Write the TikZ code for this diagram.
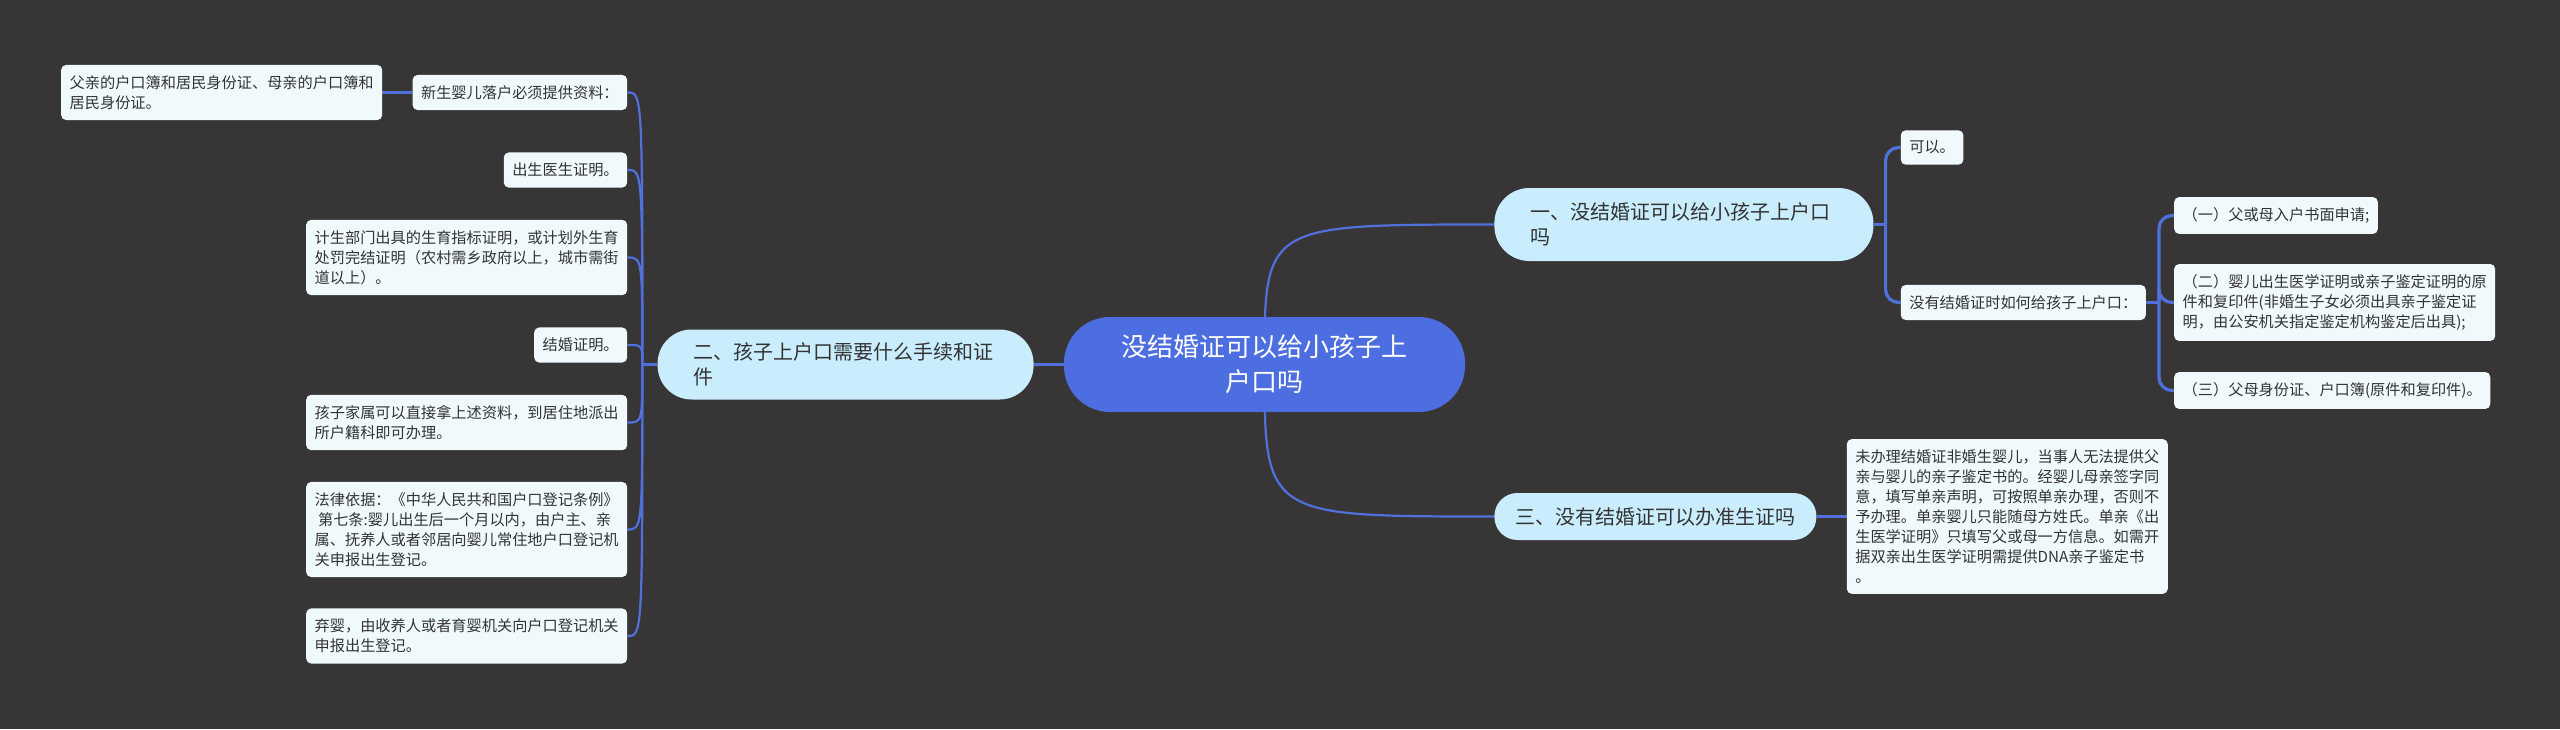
\documentclass[tikz,border=0pt]{standalone}
\usepackage{fontspec}
\setmainfont{Noto Sans CJK SC}
\usepackage{tikz}
\usetikzlibrary{positioning}
\definecolor{MapBg}{HTML}{373536}
\definecolor{RootBlue}{HTML}{4C6EE0}
\definecolor{TopicCyan}{HTML}{C9EDFD}
\definecolor{LeafWhite}{HTML}{F0FAFD}
\definecolor{LinkBlue}{HTML}{5070DC}
\definecolor{InkGray}{HTML}{333333}
\pgfdeclarelayer{bg}
\pgfdeclarelayer{edges}
\pgfsetlayers{bg,edges,main}

\begin{document}
\begin{tikzpicture}[
        root/.style={fill=RootBlue, text=white, font=\fontsize{26}{35}\selectfont, align=center, text width=287pt, inner xsep=57pt, inner ysep=17pt, minimum height=95pt, rounded corners=46pt},
        topic/.style={fill=TopicCyan, text=InkGray, font=\fontsize{20}{25}\selectfont, align=left, inner xsep=21pt, minimum height=47pt, rounded corners=23pt},
        leaf/.style={fill=LeafWhite, text=InkGray, font=\fontsize{15.2}{20}\selectfont, align=left, inner xsep=8.5pt, inner ysep=10.5pt, rounded corners=5pt},
        curvelink/.style={LinkBlue, line width=2.2pt},
        elbowlink/.style={LinkBlue, line width=3.2pt, rounded corners=13pt}]
        \useasboundingbox (-1264.5pt,-364.5pt) rectangle (1295.5pt,364.5pt);

        % Nodes
        \node[root] (root) at (0,0) {没结婚证可以给小孩子上\\户口吗};
        \node[topic, text width=307pt, inner xsep=36pt, minimum height=73pt, rounded corners=35pt, right=29pt of root, yshift=140pt] (c1) {一、没结婚证可以给小孩子上户口\\吗};
        \node[topic, text width=304pt, inner xsep=36pt, minimum height=70pt, rounded corners=34pt, left=30pt of root] (c2) {二、孩子上户口需要什么手续和证\\件};
        \node[topic, right=29pt of root, yshift=-152pt] (c3) {三、没有结婚证可以办准生证吗};

        \node[leaf, right=27pt of c1, yshift=77pt] (a1) {可以。};
        \node[leaf, right=27pt of c1, yshift=-78pt] (a2) {没有结婚证时如何给孩子上户口：};
        \node[leaf, right=28pt of a2, yshift=87pt] (b1) {（一）父或母入户书面申请;};
        \node[leaf, right=28pt of a2] (b2) {（二）婴儿出生医学证明或亲子鉴定证明的原\\件和复印件(非婚生子女必须出具亲子鉴定证\\明，由公安机关指定鉴定机构鉴定后出具);};
        \node[leaf, right=28pt of a2, yshift=-88pt] (b3) {（三）父母身份证、户口簿(原件和复印件)。};

        \node[leaf, right=30pt of c3] (d1) {未办理结婚证非婚生婴儿，当事人无法提供父\\亲与婴儿的亲子鉴定书的。经婴儿母亲签字同\\意，填写单亲声明，可按照单亲办理，否则不\\予办理。单亲婴儿只能随母方姓氏。单亲《出\\生医学证明》只填写父或母一方信息。如需开\\据双亲出生医学证明需提供DNA亲子鉴定书\\。};

        \node[leaf, left=30pt of c2, yshift=272pt] (e1) {新生婴儿落户必须提供资料：};
        \node[leaf, left=30pt of e1] (e0) {父亲的户口簿和居民身份证、母亲的户口簿和\\居民身份证。};
        \node[leaf, left=30pt of c2, yshift=194.5pt] (e2) {出生医生证明。};
        \node[leaf, left=30pt of c2, yshift=107pt] (e3) {计生部门出具的生育指标证明，或计划外生育\\处罚完结证明（农村需乡政府以上，城市需街\\道以上）。};
        \node[leaf, left=30pt of c2, yshift=19.5pt] (e4) {结婚证明。};
        \node[leaf, left=30pt of c2, yshift=-58pt] (e5) {孩子家属可以直接拿上述资料，到居住地派出\\所户籍科即可办理。};
        \node[leaf, left=30pt of c2, yshift=-165pt] (e6) {法律依据：《中华人民共和国户口登记条例》\\\ 第七条:婴儿出生后一个月以内，由户主、亲\\属、抚养人或者邻居向婴儿常住地户口登记机\\关申报出生登记。};
        \node[leaf, left=30pt of c2, yshift=-271.5pt] (e7) {弃婴，由收养人或者育婴机关向户口登记机关\\申报出生登记。};

        \coordinate[left=15pt of c2] (j2);
        \coordinate[right=12pt of c1] (j1);
        \coordinate[right=13pt of a2] (ja);

        % Connectors
        \begin{pgfonlayer}{edges}
            \draw[curvelink] (root.center) .. controls (root.center |- c1.west) .. (c1.west);
            \draw[curvelink] (root.center) .. controls (root.center |- c3.west) .. (c3.west);
            \draw[curvelink] (root.west) -- (c2.east);

            \draw[curvelink] (c2.west) -- (j2);
            \foreach \n in {e1,e2,e3,e4,e5,e6,e7}
                \draw[curvelink] (j2) .. controls (j2 |- \n.east) .. (\n.east);
            \draw[curvelink] (e1.west) -- (e0.east);

            \draw[elbowlink] (c1.east) -- (j1);
            \foreach \n in {a1,a2}
                \draw[elbowlink] (j1) |- (\n.west);
            \draw[elbowlink] (a2.east) -- (ja);
            \foreach \n in {b1,b2,b3}
                \draw[elbowlink] (ja) |- (\n.west);

            \draw[curvelink] (c3.east) -- (d1.west);
        \end{pgfonlayer}

        \begin{pgfonlayer}{bg}
            \fill[MapBg] (-1264.5pt,-364.5pt) rectangle (1295.5pt,364.5pt);
        \end{pgfonlayer}
    \end{tikzpicture}
\end{document}
